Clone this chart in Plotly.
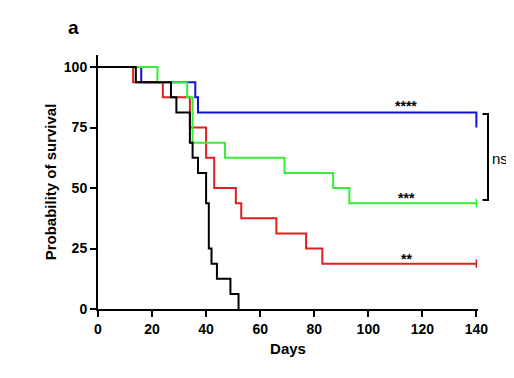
import plotly.graph_objects as go

# Kaplan-Meier step data (days, % survival)
blue_days = [0, 16, 36, 37, 140]
blue_surv = [100, 93.75, 87.5, 81.25, 75]

red_days = [0, 13, 24, 34, 40, 43, 51, 53, 66, 77, 83, 140]
red_surv = [100, 93.75, 87.5, 75, 62.5, 50, 43.75, 37.5, 31.25, 25, 18.75, 18.75]

green_days = [0, 22, 33, 35, 47, 69, 87, 93, 140]
green_surv = [100, 93.75, 87.5, 68.75, 62.5, 56.25, 50, 43.75, 43.75]

black_days = [0, 14, 27, 29, 34, 35, 37, 40, 41, 42, 44, 49, 52]
black_surv = [100, 93.75, 87.5, 81.25, 68.75, 62.5, 56.25, 43.75, 25, 18.75, 12.5, 6.25, 0]

sig_labels = ["****", "***", "**"]
sig_x = [114, 114, 114]
sig_y = [84, 46, 20.5]

x_ticks = [0, 20, 40, 60, 80, 100, 120, 140]
y_ticks = [0, 25, 50, 75, 100]

BLUE = "#1010d8"
RED = "#dd2020"
GREEN = "#33ee33"
BLACK = "#000000"
FONT = "Liberation Sans, Arial, sans-serif"

OFF = 8  # page body margin
FW, FH = 514 - OFF, 378 - OFF

fig = go.Figure()
for d, s, c in [(blue_days, blue_surv, BLUE), (red_days, red_surv, RED),
                (green_days, green_surv, GREEN), (black_days, black_surv, BLACK)]:
    fig.add_trace(go.Scatter(x=d, y=s, mode="lines", line=dict(color=c, width=2, shape="hv"),
                             showlegend=False, hoverinfo="skip"))

# censor ticks at end of red and green
for d, s, c in [(red_days, red_surv, RED), (green_days, green_surv, GREEN)]:
    fig.add_trace(go.Scatter(x=[d[-1]], y=[s[-1]], mode="markers", cliponaxis=False,
                             marker=dict(symbol="line-ns", size=6, line=dict(color=c, width=1.5)),
                             showlegend=False, hoverinfo="skip"))

for lab, x, y in zip(sig_labels, sig_x, sig_y):
    fig.add_annotation(x=x, y=y, xref="x", yref="y", text=lab, showarrow=False,
                       font=dict(family=FONT, size=14, color="black", weight="bold"))

L, T = 98 - OFF, 55 - OFF
W, H = 380, 254
R, B = FW - L - W, FH - T - H

def px(xp):
    return (xp - OFF - L) / W

def py(yp):
    return (T + H - (yp - OFF)) / H

# bracket "ns"
fig.add_shape(type="path", xref="paper", yref="paper",
              path=f"M {px(482.5)},{py(114)} L {px(488)},{py(114)} L {px(488)},{py(200)} L {px(482.5)},{py(200)}",
              line=dict(color="black", width=2))
fig.add_annotation(x=px(490), y=py(158), xref="paper", yref="paper", text="ns", showarrow=False,
                   xanchor="left", yanchor="middle", font=dict(family=FONT, size=15, color="black"))
fig.add_annotation(x=px(66), y=py(28), xref="paper", yref="paper", text="a", showarrow=False,
                   xanchor="left", yanchor="middle", font=dict(family=FONT, size=19, color="black", weight="bold"))

fig.update_xaxes(range=[0, 140.6], tickvals=x_ticks, ticktext=[str(v) for v in x_ticks],
                 showline=True, linecolor="black", linewidth=2, ticks="outside", ticklen=6,
                 tickwidth=2, tickcolor="black", showgrid=False, zeroline=False,
                 tickfont=dict(family=FONT, size=14, color="black", weight="bold"),
                 title=dict(text="Days", font=dict(family=FONT, size=15, color="black", weight="bold"), standoff=8))
fig.update_yaxes(range=[0, 105], tickvals=y_ticks, ticktext=[str(v) for v in y_ticks],
                 showline=True, linecolor="black", linewidth=2, ticks="outside", ticklen=6,
                 tickwidth=2, tickcolor="black", showgrid=False, zeroline=False,
                 tickfont=dict(family=FONT, size=14, color="black", weight="bold"),
                 title=dict(text="Probability of survival", font=dict(family=FONT, size=15, color="black", weight="bold"), standoff=4))

fig.update_layout(width=FW, height=FH, margin=dict(l=L, r=R, t=T, b=B),
                  plot_bgcolor="white", paper_bgcolor="white")
fig.write_html("out.html")
